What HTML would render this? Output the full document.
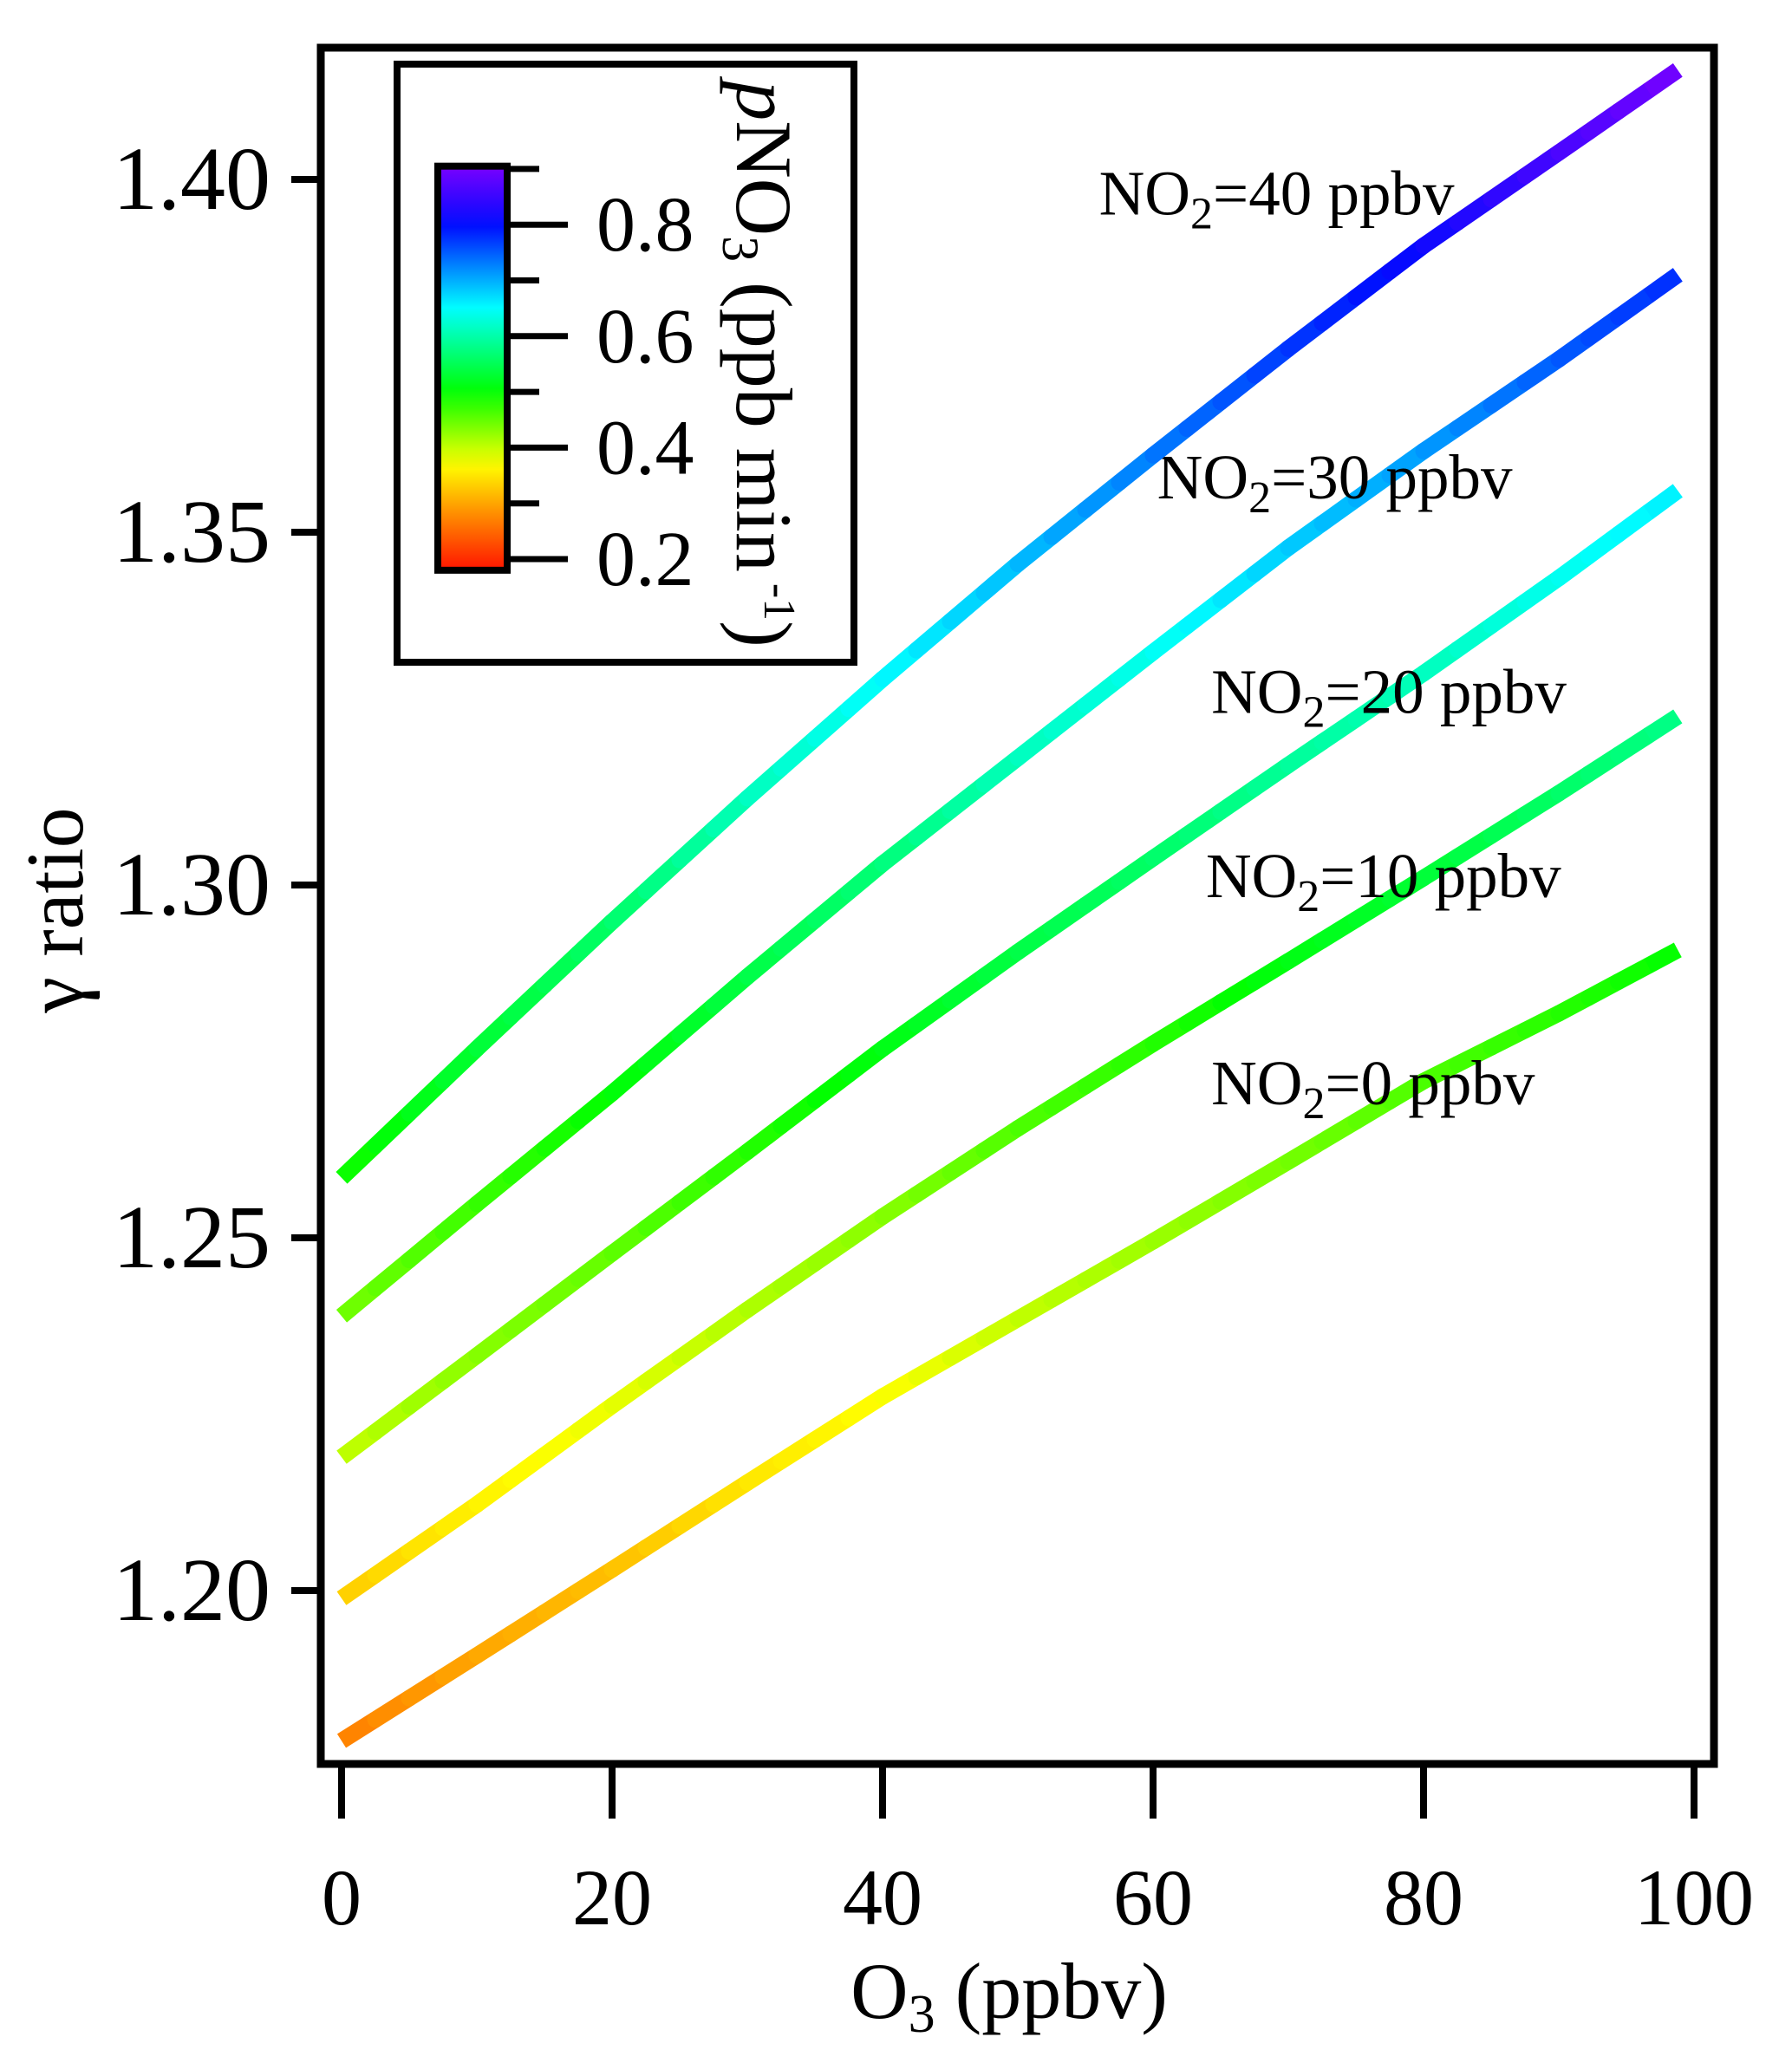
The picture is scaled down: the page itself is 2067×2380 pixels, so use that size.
<!DOCTYPE html>
<html><head><meta charset="utf-8"><style>
html,body{margin:0;padding:0;background:#fff}
svg{display:block;font-family:"Liberation Serif",serif}
</style></head><body>
<svg id="chart" width="2067" height="2380" viewBox="0 0 2067 2380" xmlns="http://www.w3.org/2000/svg">
<rect x="0" y="0" width="2067" height="2380" fill="#fff"/>
<g id="lines"></g>
<rect x="370" y="55" width="1607" height="1980" fill="none" stroke="#000" stroke-width="9"/>
<g id="axes"></g>
<g id="legend"></g>
<text x="1164" y="2328" font-size="92" text-anchor="middle">O<tspan font-size="62" dy="16">3</tspan><tspan dy="-16"> (ppbv)</tspan></text>
<text transform="translate(95,1050) rotate(-90)" font-size="94" text-anchor="middle">γ ratio</text>
</svg>
<script>
const xs = [0, 10, 20, 30, 40, 50, 60, 70, 80, 90, 98.8];
const seriesNames = ["NO2=0","NO2=10","NO2=20","NO2=30","NO2=40"];
const gamma0  = [1.1787, 1.1908, 1.2030, 1.2153, 1.2275, 1.2385, 1.2495, 1.2608, 1.2722, 1.2818, 1.2908];
const gamma10 = [1.1989, 1.2122, 1.2262, 1.2398, 1.2530, 1.2655, 1.2775, 1.2892, 1.3010, 1.3130, 1.3239];
const gamma20 = [1.2189, 1.2333, 1.2478, 1.2622, 1.2768, 1.2905, 1.3038, 1.3170, 1.3300, 1.3435, 1.3559];
const gamma30 = [1.2389, 1.2548, 1.2705, 1.2870, 1.3030, 1.3180, 1.3330, 1.3478, 1.3615, 1.3745, 1.3865];
const gamma40 = [1.2585, 1.2768, 1.2948, 1.3123, 1.3292, 1.3455, 1.3609, 1.3760, 1.3906, 1.4038, 1.4155];
const pno3_0  = [0.27, 0.30, 0.32, 0.35, 0.37, 0.40, 0.42, 0.44, 0.46, 0.48, 0.50];
const pno3_10 = [0.33, 0.36, 0.38, 0.41, 0.43, 0.46, 0.48, 0.51, 0.53, 0.56, 0.58];
const pno3_20 = [0.40, 0.43, 0.45, 0.48, 0.51, 0.54, 0.56, 0.59, 0.61, 0.64, 0.66];
const pno3_30 = [0.44, 0.47, 0.50, 0.54, 0.57, 0.61, 0.64, 0.68, 0.71, 0.75, 0.78];
const pno3_40 = [0.49, 0.53, 0.56, 0.61, 0.65, 0.69, 0.73, 0.77, 0.81, 0.86, 0.90];
const labelText = ["0","10","20","30","40"];
const labelGamma = [1.2689, 1.2983, 1.3244, 1.3548, 1.3950];
const labelX = [64.3, 63.9, 64.3, 60.3, 56.0];
const yTicks = [1.20, 1.25, 1.30, 1.35, 1.40];
const xTicks = [0, 20, 40, 60, 80, 100];
const cbTicks = [0.2, 0.4, 0.6, 0.8];
const cbMinor = [0.3, 0.5, 0.7, 0.9];

const NS = "http://www.w3.org/2000/svg";
const X = v => 394 + v * 15.6;
const Y = v => 207 + (1.40 - v) * 8140;
const CB = v => 645 - (v - 0.2) * 643;
function cmap(v){
  const st=[[0.18,[255,20,0]],[0.28,[255,140,0]],[0.37,[255,255,0]],[0.5,[0,255,0]],[0.65,[0,255,255]],[0.8,[0,10,255]],[0.92,[140,0,255]]];
  if(v<=st[0][0]) return `rgb(${st[0][1]})`;
  for(let i=1;i<st.length;i++){ if(v<=st[i][0]){const t=(v-st[i-1][0])/(st[i][0]-st[i-1][0]);const c=st[i-1][1].map((a,k)=>Math.round(a+(st[i][1][k]-a)*t));return `rgb(${c})`;} }
  return `rgb(${st[st.length-1][1]})`;
}
function mk(tag, attrs, parent){const e=document.createElementNS(NS,tag);for(const k in attrs)e.setAttribute(k,attrs[k]);parent.appendChild(e);return e;}

const gl = document.getElementById('lines');
const allG=[gamma0,gamma10,gamma20,gamma30,gamma40];
const allP=[pno3_0,pno3_10,pno3_20,pno3_30,pno3_40];
allG.forEach((g,si)=>{
  const p=allP[si];
  const grp=mk('g',{},gl);
  
  
  for(let i=0;i<xs.length-1;i++){
    const n=4;
    for(let j=0;j<n;j++){
      const t0=j/n,t1=(j+1)/n;
      const xa=xs[i]+(xs[i+1]-xs[i])*t0, xb=xs[i]+(xs[i+1]-xs[i])*t1;
      const ya=g[i]+(g[i+1]-g[i])*t0, yb=g[i]+(g[i+1]-g[i])*t1;
      const pv=p[i]+(p[i+1]-p[i])*(t0+t1)/2;
      const s=mk('line',{x1:X(xa),y1:Y(ya),x2:X(xb),y2:Y(yb),stroke:cmap(pv),'stroke-width':19,'stroke-linecap':(i==0&&j==0)||(i==xs.length-2&&j==n-1)?'butt':'round'},grp);
      
      
    }
  }
  const t=mk('text',{x:X(labelX[si]),y:Y(labelGamma[si]),'font-size':73},gl);
  
  
  t.innerHTML='NO<tspan font-size="52" dy="16">2</tspan><tspan dy="-16">='+labelText[si]+' ppbv</tspan>';
});

const ga=document.getElementById('axes');
yTicks.forEach(v=>{
  const l=mk('line',{x1:336,x2:370,y1:Y(v),y2:Y(v),stroke:'#000','stroke-width':8},ga);
  
  
  const t=mk('text',{x:312,y:Y(v)+34,'font-size':104,'text-anchor':'end'},ga);
  
  
  t.textContent=v.toFixed(2);
});
xTicks.forEach(v=>{
  const l=mk('line',{x1:X(v),x2:X(v),y1:2035,y2:2098,stroke:'#000','stroke-width':8},ga);
  
  
  const t=mk('text',{x:X(v),y:2220,'font-size':92,'text-anchor':'middle'},ga);
  
  
  t.textContent=String(v);
});

const lg=document.getElementById('legend');
const box=mk('rect',{x:458,y:74,width:527,height:690,fill:'#fff',stroke:'#000','stroke-width':8},lg);


const defs=mk('defs',{},lg);
const grad=mk('linearGradient',{id:'cbg',x1:0,y1:1,x2:0,y2:0},defs);
for(let i=0;i<=20;i++){const v=0.18+(0.905-0.18)*i/20;mk('stop',{offset:(i/20),'stop-color':cmap(v)},grad);}
const bar=mk('rect',{x:505,y:CB(0.905),width:80,height:CB(0.18)-CB(0.905),fill:'url(#cbg)',stroke:'#000','stroke-width':8},lg);


cbTicks.forEach(v=>{
  const l=mk('line',{x1:588,x2:655,y1:CB(v),y2:CB(v),stroke:'#000','stroke-width':7},lg);
  
  
  const t=mk('text',{x:688,y:CB(v)+30,'font-size':90},lg);
  
  
  t.textContent=v.toFixed(1);
});
cbMinor.forEach(v=>{
  const l=mk('line',{x1:588,x2:622,y1:CB(v),y2:CB(v),stroke:'#000','stroke-width':7},lg);
  
  
});
const ct=mk('text',{transform:'translate(850,420) rotate(90)','font-size':92,'text-anchor':'middle'},lg);


ct.innerHTML='<tspan font-style="italic">p</tspan>NO<tspan font-size="60" dy="16">3</tspan><tspan dy="-16"> (ppb min</tspan><tspan font-size="52" dy="-32"> -1</tspan><tspan dy="32">)</tspan>';
</script>
</body></html>
